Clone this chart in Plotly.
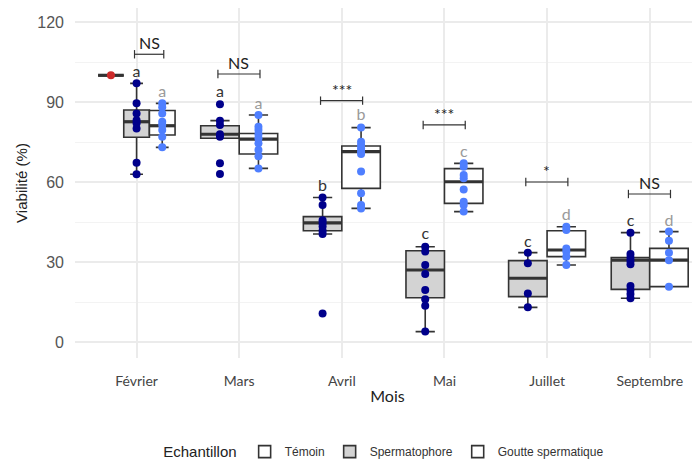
import plotly.graph_objects as go

months = ["Février", "Mars", "Avril", "Mai", "Juillet", "Septembre"]
y_ticks = [0, 30, 60, 90, 120]

temoin_points = [100]
temoin_stats = [100, 100, 100, 100, 100]  # lo, q1, med, q3, hi

sperm_points = [
    [97.0, 89.5, 85.7, 83.2, 82.0, 80.1, 67.2, 62.9],
    [89.2, 83.0, 81.4, 77.9, 77.0, 67.0, 63.0],
    [54.2, 51.4, 45.7, 44.5, 43.3, 41.7, 40.5, 10.7],
    [35.7, 33.9, 28.9, 25.5, 19.5, 16.0, 13.6, 3.9],
    [33.5, 29.5, 18.2, 13.0],
    [41.0, 33.0, 31.7, 30.5, 29.2, 21.0, 19.5, 18.0, 16.4],
]
goutte_points = [
    [89.5, 88.0, 85.7, 82.6, 81.4, 79.5, 77.0, 73.0],
    [85.1, 80.7, 79.5, 77.9, 76.4, 74.5, 72.0, 69.7, 65.1],
    [80.4, 75.1, 73.9, 72.7, 71.4, 70.5, 63.9, 55.8, 51.4, 50.1],
    [67.0, 65.7, 62.6, 61.4, 57.2, 52.6, 51.4, 48.9],
    [43.2, 42.0, 35.1, 33.9, 32.0, 28.9],
    [41.4, 38.0, 33.5, 30.7, 20.7],
]

sperm_lo = [62.9, 76.4, 40.5, 3.9, 13.0, 16.4]
sperm_q1 = [76.8, 76.4, 41.7, 16.6, 17.0, 19.75]
sperm_med = [82.6, 77.9, 44.7, 27.0, 23.9, 30.7]
sperm_q3 = [87.0, 81.1, 47.0, 34.2, 30.5, 31.7]
sperm_hi = [97.0, 83.0, 54.2, 35.7, 33.5, 41.0]

goutte_lo = [73.0, 65.1, 50.1, 48.9, 28.9, 20.7]
goutte_q1 = [77.6, 70.5, 57.6, 52.0, 32.0, 20.75]
goutte_med = [81.1, 76.1, 71.4, 60.1, 34.5, 30.7]
goutte_q3 = [86.8, 78.2, 73.5, 65.0, 41.7, 35.1]
goutte_hi = [89.5, 85.1, 80.4, 67.0, 43.2, 41.4]

sperm_letters = ["a", "a", "b", "c", "c", "c"]
goutte_letters = ["a", "a", "b", "c", "d", "d"]
sperm_letter_y = [101.0, 93.5, 58.0, 40.0, 37.2, 45.1]
goutte_letter_y = [93.5, 88.9, 84.7, 71.0, 47.2, 45.1]

sig_labels = ["NS", "NS", "***", "***", "*", "NS"]
sig_y = [107.9, 100.5, 90.5, 81.4, 60.0, 55.5]

# ---- layout of dodged groups (ggplot-like) ----
n = len(months)
sperm_pos, goutte_pos, widths = [], [], []
for i in range(n):
    c = i + 1
    if i == 0:  # three groups in Février
        w = 0.25
        sperm_pos.append(c)
        goutte_pos.append(c + w)
    else:
        w = 0.375
        sperm_pos.append(c - w / 2)
        goutte_pos.append(c + w / 2)
    widths.append(w)
temoin_pos = 1 - 0.25

BOX_LINE = "#333333"
SPERM_FILL = "#D3D3D3"
GOUTTE_FILL = "#FFFFFF"
C_TEMOIN = "#CC2A2A"
C_SPERM = "#00008B"
C_GOUTTE = "#4F7FFF"

fig = go.Figure()


def add_box(pos, w, lo, q1, med, q3, hi, fill, name, show):
    fig.add_trace(go.Box(
        x=[pos], lowerfence=[lo], q1=[q1], median=[med], q3=[q3], upperfence=[hi],
        width=w, fillcolor=fill, line=dict(color=BOX_LINE, width=1.6),
        boxpoints=False, name=name, legendgroup=name, showlegend=show,
        hoverinfo="skip",
    ))


# Témoin
add_box(temoin_pos, 0.25, *temoin_stats, "#FFFFFF", "Témoin", True)
for i in range(n):
    add_box(sperm_pos[i], widths[i], sperm_lo[i], sperm_q1[i], sperm_med[i],
            sperm_q3[i], sperm_hi[i], SPERM_FILL, "Spermatophore", i == 0)
for i in range(n):
    add_box(goutte_pos[i], widths[i], goutte_lo[i], goutte_q1[i], goutte_med[i],
            goutte_q3[i], goutte_hi[i], GOUTTE_FILL, "Goutte spermatique", i == 0)

# thick median lines
mx, my = [], []
all_pos = [temoin_pos] + sperm_pos + goutte_pos
all_w = [0.25] + widths + widths
all_med = [temoin_stats[2]] + sperm_med + goutte_med
for p, w, m in zip(all_pos, all_w, all_med):
    mx += [p - w / 2, p + w / 2, None]
    my += [m, m, None]
fig.add_trace(go.Scatter(x=mx, y=my, mode="lines", line=dict(color=BOX_LINE, width=3.2),
                         showlegend=False, hoverinfo="skip"))

# points
fig.add_trace(go.Scatter(x=[temoin_pos] * len(temoin_points), y=temoin_points, mode="markers",
                         marker=dict(color=C_TEMOIN, size=8), showlegend=False))
sx, sy, gx, gy = [], [], [], []
for i in range(n):
    sx += [sperm_pos[i]] * len(sperm_points[i])
    sy += sperm_points[i]
    gx += [goutte_pos[i]] * len(goutte_points[i])
    gy += goutte_points[i]
fig.add_trace(go.Scatter(x=sx, y=sy, mode="markers", marker=dict(color=C_SPERM, size=8),
                         showlegend=False))
fig.add_trace(go.Scatter(x=gx, y=gy, mode="markers", marker=dict(color=C_GOUTTE, size=8),
                         showlegend=False))

# letters
fig.add_trace(go.Scatter(x=sperm_pos, y=sperm_letter_y, mode="text", text=sperm_letters,
                         textfont=dict(family="Lato", size=16, color="#333333"),
                         showlegend=False, hoverinfo="skip"))
fig.add_trace(go.Scatter(x=goutte_pos, y=goutte_letter_y, mode="text", text=goutte_letters,
                         textfont=dict(family="Lato", size=16, color="#9A9A9A"),
                         showlegend=False, hoverinfo="skip"))

# significance brackets
bx, by = [], []
for i in range(n):
    l = sperm_pos[i] - 0.02
    r = goutte_pos[i] + 0.015
    bx += [l, r, None]
    by += [sig_y[i], sig_y[i], None]
    fig.add_annotation(x=(l + r) / 2, y=sig_y[i], text=sig_labels[i], showarrow=False,
                       yanchor="bottom", yshift=0,
                       font=dict(family="Lato", size=16, color="#222222"))
fig.add_trace(go.Scatter(x=bx, y=by, mode="lines+markers", line=dict(color="#333333", width=1.2),
                         marker=dict(symbol="line-ns-open", size=6, color="#333333",
                                     line=dict(color="#333333", width=1.2)),
                         showlegend=False, hoverinfo="skip"))

grid = "#EBEBEB"
fig.update_layout(
    width=700, height=460, autosize=False,
    margin=dict(l=67, r=8, t=0, b=110, pad=0),
    paper_bgcolor="white", plot_bgcolor="white",
    showlegend=True,
    legend=dict(orientation="h", x=0.138, xanchor="left", y=-0.269, yanchor="middle",
                title=dict(text="Echantillon", side="left",
                           font=dict(family="Liberation Sans", size=15, color="#222222")),
                font=dict(family="Liberation Sans", size=12, color="#333333"),
                itemwidth=30),
    xaxis=dict(range=[0.4, 6.49], tickmode="array", tickvals=list(range(1, n + 1)),
               ticktext=months, showgrid=True, gridcolor=grid, gridwidth=1.5,
               zeroline=False, showline=False, ticks="", ticklabelstandoff=13,
               automargin=False,
               tickfont=dict(family="Lato", size=14, color="#444444"),
               title=dict(text="Mois", standoff=2,
                          font=dict(family="Lato", size=16, color="#222222"))),
    yaxis=dict(range=[-6, 125.25], tickmode="array", tickvals=y_ticks,
               showgrid=True, gridcolor=grid, gridwidth=1.5,
               minor=dict(tickmode="linear", tick0=15, dtick=30, showgrid=True,
                          gridcolor="#F3F3F3", gridwidth=1),
               zeroline=False, showline=False, ticks="", ticklabelstandoff=10,
               automargin=False,
               tickfont=dict(family="Liberation Sans", size=16, color="#555555"),
               title=dict(text="Viabilité (%)", standoff=6,
                          font=dict(family="Liberation Sans", size=15, color="#222222"))),
)

fig.write_html("out.html", config={"displayModeBar": False})
